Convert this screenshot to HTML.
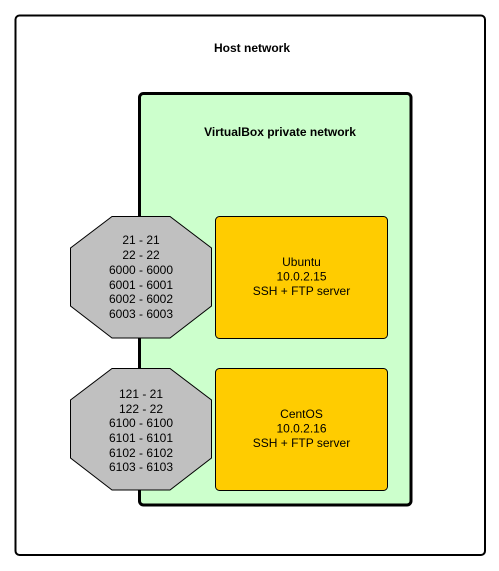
<!DOCTYPE html>
<html><head><meta charset="utf-8"><style>
html,body{margin:0;padding:0;background:#fff;}
svg{display:block;}
text{font-family:"Liberation Sans",Arial,sans-serif;font-size:12px;fill:#000;}
</style></head><body>
<svg width="499" height="571" viewBox="0 0 499 571" xmlns="http://www.w3.org/2000/svg">
<rect x="15.5" y="15.5" width="469.5" height="539.5" rx="4" fill="#fff" stroke="#000" stroke-width="2"/>
<text x="252" y="52" text-anchor="middle" font-weight="bold">Host network</text>
<rect x="139.5" y="93.5" width="271.5" height="411.5" rx="4" fill="#ccffcc" stroke="#000" stroke-width="3"/>
<text x="280" y="136" text-anchor="middle" font-weight="bold">VirtualBox private network</text>
<rect x="215.5" y="216.5" width="172" height="122" rx="4" fill="#ffcc00" stroke="#000" stroke-width="1"/>
<text x="301.5" text-anchor="middle"><tspan x="301.5" y="266">Ubuntu</tspan><tspan x="301.5" y="280.5">10.0.2.15</tspan><tspan x="301.5" y="295">SSH + FTP server</tspan></text>
<rect x="215.5" y="368.5" width="172" height="122" rx="4" fill="#ffcc00" stroke="#000" stroke-width="1"/>
<text x="301.5" text-anchor="middle"><tspan x="301.5" y="418">CentOS</tspan><tspan x="301.5" y="432.5">10.0.2.16</tspan><tspan x="301.5" y="447">SSH + FTP server</tspan></text>
<polygon points="112,216.5 170,216.5 211.5,248 211.5,306 170,338 112,338 70.5,306 70.5,248" fill="#c0c0c0" stroke="#000" stroke-width="1"/>
<text text-anchor="middle"><tspan x="141" y="244">21 - 21</tspan><tspan x="141" y="259">22 - 22</tspan><tspan x="141" y="274">6000 - 6000</tspan><tspan x="141" y="289">6001 - 6001</tspan><tspan x="141" y="303">6002 - 6002</tspan><tspan x="141" y="318">6003 - 6003</tspan></text>
<polygon points="112,368.5 170,368.5 211.5,400 211.5,458 170,490 112,490 70.5,458 70.5,400" fill="#c0c0c0" stroke="#000" stroke-width="1"/>
<text text-anchor="middle"><tspan x="141" y="398">121 - 21</tspan><tspan x="141" y="413">122 - 22</tspan><tspan x="141" y="427">6100 - 6100</tspan><tspan x="141" y="442">6101 - 6101</tspan><tspan x="141" y="457">6102 - 6102</tspan><tspan x="141" y="471">6103 - 6103</tspan></text>
</svg>
</body></html>
